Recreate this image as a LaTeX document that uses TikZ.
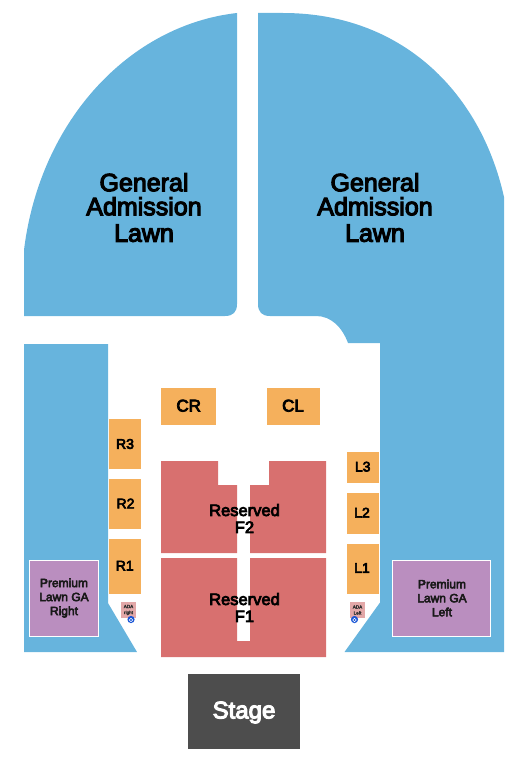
\documentclass[tikz,border=0pt]{standalone}
\usepackage{fontspec}
\setmainfont{Liberation Sans}
\newfontfamily\heavyfont[FakeBold=4.5]{Liberation Sans}
\definecolor{lawn}{HTML}{67B4DD}
\definecolor{side}{HTML}{F5B05C}
\definecolor{res}{HTML}{D8706F}
\definecolor{prem}{HTML}{BA8EBF}
\definecolor{ada}{HTML}{E3A8A8}
\definecolor{stagec}{HTML}{4D4D4D}
\definecolor{wheel}{HTML}{1A56D6}
\tikzset{
  lbl/.style={text=black,inner sep=0pt,align=center,font=\heavyfont\fontsize{#1}{#1}\selectfont},
  galabel/.style={text=black,inner sep=0pt,align=center,font=\heavyfont\fontsize{25}{24}\selectfont},
  premlabel/.style={text=black!90,inner sep=0pt,align=center,font=\heavyfont\fontsize{12}{14}\selectfont},
  reslabel/.style={text=black,inner sep=0pt,align=center,font=\heavyfont\fontsize{16.5}{17}\selectfont},
  adalabel/.style={text=black!80,inner sep=0pt,align=center,font=\heavyfont\fontsize{4.6}{6}\selectfont},
}
\begin{document}
\begin{tikzpicture}[x=1pt,y=-1pt]
\useasboundingbox (0,0) rectangle (525,760);
% lawns
\fill[lawn] (24,250) .. controls (40,120) and (130,25) .. (237,13)
  -- (237,304) .. controls (237,312) and (233,316) .. (225,316) -- (24,316) -- cycle;
\fill[lawn] (258,13) -- (283,13) .. controls (400,13) and (480,90) .. (504,197)
  -- (504,652) -- (344.5,652) -- (380,602.5) -- (380,343) -- (348,343)
  .. controls (342,327) and (331,316) .. (316,316)
  -- (270,316) .. controls (262,316) and (258,312) .. (258,304) -- cycle;
\fill[lawn] (24,344) -- (108,344) -- (108,603) -- (137,652) -- (24,652) -- cycle;
% premium
\filldraw[fill=prem,draw=white,line width=1pt] (29.5,560.5) rectangle (98.5,636.5);
\filldraw[fill=prem,draw=white,line width=1pt] (392.5,560.5) rectangle (490.5,636.5);
% side sections
\fill[side] (109,539) rectangle (141,594);
\fill[side] (109,479) rectangle (141,529);
\fill[side] (109,419) rectangle (141,469);
\fill[side] (161,388) rectangle (216,425);
\fill[side] (267,388) rectangle (320,425);
\fill[side] (347,544) rectangle (379,594);
\fill[side] (347,493) rectangle (379,534);
\fill[side] (347,452) rectangle (379,483);
% reserved
\fill[res] (161,461) -- (218,461) -- (218,485) -- (237,485) -- (237,553) -- (161,553) -- cycle;
\fill[res] (326,461) -- (269,461) -- (269,485) -- (250,485) -- (250,553) -- (326,553) -- cycle;
\fill[res] (161,558) -- (237,558) -- (237,641) -- (250,641) -- (250,558) -- (326,558) -- (326,657) -- (161,657) -- cycle;
% stage
\fill[stagec] (188,674) rectangle (300,749);
% ADA
\fill[ada] (121,602) rectangle (136,618);
\fill[ada] (350,602) rectangle (365,618);
\fill[wheel] (131,619.5) circle (3.6);
\fill[wheel] (354.5,619.5) circle (3.6);
\draw[white,line width=0.5pt] (131,620) circle (1.8);
\draw[white,line width=0.5pt] (354.5,620) circle (1.8);
% labels
\node[galabel] (galeft) at (144,207.5) {General\\[0pt]Admission\\[2.5pt]Lawn};
\node[galabel] (garight) at (375,207.5) {General\\[0pt]Admission\\[2.5pt]Lawn};
\node[premlabel] (premright) at (64,598) {Premium\\Lawn GA\\Right};
\node[premlabel] (premleft) at (442,598) {Premium\\Lawn GA\\Left};
\node[lbl=14] (r1) at (124.7,565.7) {R1};
\node[lbl=14] (r2) at (125.5,503.5) {R2};
\node[lbl=14] (r3) at (125,444) {R3};
\node[lbl=17] (cr) at (188.7,405.7) {CR};
\node[lbl=17] (cl) at (293,405.7) {CL};
\node[lbl=14] (l1) at (362,568) {L1};
\node[lbl=14] (l2) at (362,512.7) {L2};
\node[lbl=14] (l3) at (362.7,466.7) {L3};
\node[reslabel] (f2) at (244.5,518.5) {Reserved\\F2};
\node[reslabel] (f1) at (244.5,607.5) {Reserved\\F1};
\node[lbl=24,text=white] (stage) at (244,712.5) {Stage};
\node[adalabel] (adaright) at (128.5,610) {ADA\\right};
\node[adalabel] (adaleft) at (357.5,610) {ADA\\Left};
\end{tikzpicture}
\end{document}
